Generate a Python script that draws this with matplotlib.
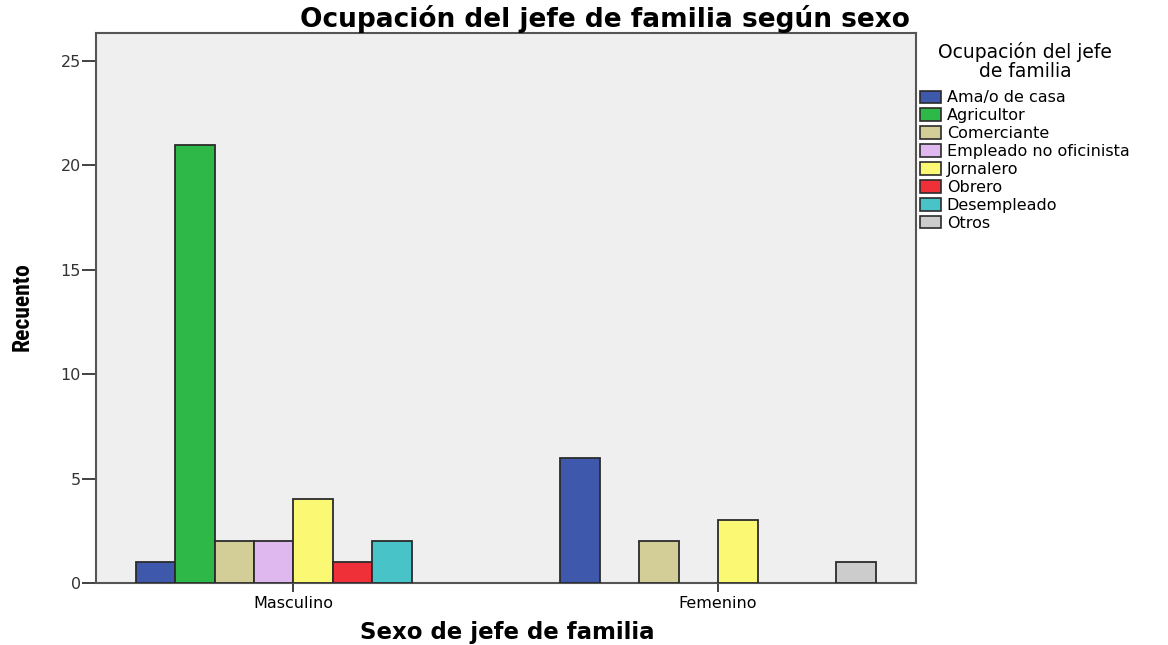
import matplotlib
matplotlib.use("Agg")
import matplotlib.pyplot as plt
import numpy as np
from matplotlib.patches import Patch
from matplotlib import font_manager as fm

categories = ["Masculino", "Femenino"]
occupations = ["Ama/o de casa", "Agricultor", "Comerciante", "Empleado no oficinista",
               "Jornalero", "Obrero", "Desempleado", "Otros"]
masculino = [1, 21, 2, 2, 4, 1, 2, 0]
femenino = [6, 0, 2, 0, 3, 0, 0, 1]
colors = ["#3E58AC", "#2EB848", "#D3CE97", "#E0B8F0", "#FBF873", "#EF3038", "#48C4C8", "#CCCCCC"]
yticks = [0, 5, 10, 15, 20, 25]

values = np.array([masculino, femenino])

names = {f.name for f in fm.fontManager.ttflist}
narrow = [n for n in ["Liberation Sans Narrow", "DejaVu Sans Condensed", "Roboto Condensed"] if n in names]

fig = plt.figure(figsize=(11.68, 6.45), dpi=100)
ax = fig.add_axes([96/1168, 1 - 583/645, (916-96)/1168, (583-33)/645])
ax.set_facecolor("#EFEFEF")

n = len(occupations)
width = 0.0928
x = np.arange(len(categories))
for i in range(n):
    offs = (i - (n - 1) / 2) * width
    for j in range(len(categories)):
        v = values[j, i]
        if v > 0:
            ax.bar(x[j] + offs, v, width=width, color=colors[i],
                   edgecolor="#2b2b2b", linewidth=1.3, zorder=3)

ax.set_xlim(-0.465, 1.466)
ax.set_ylim(0, 26.34)
ax.set_xticks(x)
ax.set_xticklabels(categories, fontsize=11.5)
ax.set_yticks(yticks)
ax.set_yticklabels([str(t) for t in yticks], fontsize=11.5, color="#333333")
ax.tick_params(axis="y", length=10, width=1.3, color="#333333", pad=1)
ax.tick_params(axis="x", length=6.5, width=1.3, color="#333333", pad=3)
for s in ax.spines.values():
    s.set_color("#555555")
    s.set_linewidth(1.5)

fig.text(605/1168, 1 - 19/645, "Ocupación del jefe de familia según sexo",
         ha="center", va="center", fontsize=19, fontweight="bold")
fig.text(507/1168, 1 - 633/645, "Sexo de jefe de familia",
         ha="center", va="center", fontsize=16.5, fontweight="bold")
if narrow:
    fig.text(22/1168, 1 - 307/645, "Recuento", rotation=90,
             ha="center", va="center", fontsize=17, fontweight="bold",
             family=[narrow[0], "DejaVu Sans"])
else:
    fig.text(22/1168, 1 - 307/645, "Recuento", rotation=90,
             ha="center", va="center", fontsize=12.5, fontweight="bold")

handles = [Patch(facecolor=c, edgecolor="#2b2b2b", linewidth=1.2) for c in colors]
leg = fig.legend(handles, occupations, loc="upper left",
                 bbox_to_anchor=(914/1168, 1 - 36/645), frameon=False,
                 title="Ocupación del jefe\nde familia", title_fontsize=13.5,
                 fontsize=11.5, handlelength=1.3, handleheight=0.85,
                 handletextpad=0.35, labelspacing=0.18, borderaxespad=0)
leg.get_title().set_multialignment("center")
leg.get_title().set_linespacing(1.0)
leg._legend_box.align = "center"
leg._legend_box.sep = 6.5

fig.savefig("out.png", dpi=100, facecolor="white")
